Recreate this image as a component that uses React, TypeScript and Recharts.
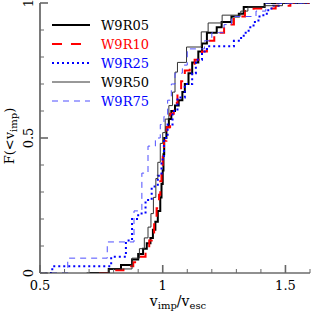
import React from "react";
import { LineChart, Line, XAxis, YAxis, Legend } from "recharts";

// cumulative fractions (step after each x)
const r05X = [0.7, 0.78, 0.83, 0.875, 0.9, 0.92, 0.935, 0.95, 0.96, 0.97, 0.98, 0.99, 0.995, 1.0, 1.003, 1.006, 1.015, 1.025, 1.035, 1.05, 1.065, 1.08, 1.09, 1.105, 1.12, 1.145, 1.16, 1.18, 1.22, 1.24, 1.28, 1.31, 1.33, 1.415, 1.6];
const r05F = [0, 0.015, 0.03, 0.05, 0.07, 0.09, 0.11, 0.13, 0.16, 0.19, 0.23, 0.28, 0.33, 0.38, 0.44, 0.5, 0.54, 0.57, 0.6, 0.62, 0.64, 0.67, 0.7, 0.74, 0.78, 0.82, 0.85, 0.89, 0.91, 0.93, 0.95, 0.96, 0.985, 1.0, 1.0];

const r10X = [0.74, 0.8, 0.84, 0.88, 0.91, 0.93, 0.945, 0.955, 0.965, 0.975, 0.985, 0.99, 0.995, 1.0, 1.005, 1.015, 1.03, 1.045, 1.06, 1.075, 1.09, 1.11, 1.13, 1.16, 1.18, 1.21, 1.25, 1.29, 1.335, 1.37, 1.46, 1.52, 1.6];
const r10F = [0, 0.01, 0.025, 0.04, 0.06, 0.09, 0.12, 0.15, 0.19, 0.24, 0.29, 0.34, 0.39, 0.44, 0.49, 0.54, 0.59, 0.63, 0.67, 0.71, 0.75, 0.77, 0.79, 0.82, 0.86, 0.89, 0.92, 0.95, 0.97, 0.98, 0.99, 1.0, 1.0];

const r25X = [0.5, 0.55, 0.79, 0.85, 0.875, 0.9, 0.93, 0.955, 0.98, 0.995, 1.005, 1.02, 1.04, 1.06, 1.09, 1.12, 1.135, 1.16, 1.18, 1.29, 1.31, 1.33, 1.35, 1.37, 1.39, 1.41, 1.43, 1.45, 1.48, 1.6];
const r25F = [0, 0.025, 0.06, 0.12, 0.2, 0.22, 0.27, 0.32, 0.36, 0.42, 0.5, 0.55, 0.6, 0.65, 0.7, 0.74, 0.79, 0.82, 0.84, 0.86, 0.87, 0.89, 0.91, 0.93, 0.95, 0.96, 0.98, 0.99, 1.0, 1.0];

const r50X = [0.69, 0.78, 0.875, 0.905, 0.925, 0.94, 0.952, 0.962, 0.972, 0.98, 0.99, 1.0, 1.01, 1.025, 1.04, 1.05, 1.06, 1.097, 1.157, 1.185, 1.242, 1.318, 1.347, 1.415, 1.488, 1.6];
const r50F = [0, 0.015, 0.055, 0.09, 0.13, 0.17, 0.22, 0.28, 0.35, 0.41, 0.48, 0.52, 0.57, 0.62, 0.67, 0.744, 0.78, 0.837, 0.893, 0.926, 0.955, 0.97, 0.985, 0.99, 1.0, 1.0];

const r75X = [0.5, 0.613, 0.774, 0.883, 0.915, 0.94, 0.97, 0.99, 1.005, 1.02, 1.035, 1.05, 1.08, 1.1, 1.17, 1.2, 1.25, 1.28, 1.38, 1.42, 1.6];
const r75F = [0, 0.055, 0.115, 0.23, 0.37, 0.47, 0.5, 0.55, 0.58, 0.64, 0.7, 0.74, 0.77, 0.83, 0.86, 0.89, 0.92, 0.95, 0.97, 1.0, 1.0];

const X_TICKS = [0.5, 0.6, 0.7, 0.8, 0.9, 1.0, 1.1, 1.2, 1.3, 1.4, 1.5, 1.6];
const Y_TICKS = [0, 0.1, 0.2, 0.3, 0.4, 0.5, 0.6, 0.7, 0.8, 0.9, 1.0];

const FONT = "'DejaVu Serif', serif";
const TICK_COLOR = "#666";

const toRows = (xs: number[], fs: number[]) => xs.map((x, i) => ({ x, F: fs[i] }));

const series = [
  { name: "W9R05", data: toRows(r05X, r05F), stroke: "#000", width: 2, dash: undefined, text: "#000" },
  { name: "W9R10", data: toRows(r10X, r10F), stroke: "#ff0000", width: 2, dash: "10 9", text: "#ff0000" },
  { name: "W9R25", data: toRows(r25X, r25F), stroke: "#0000ff", width: 2, dash: "2 3", text: "#0000ff" },
  { name: "W9R50", data: toRows(r50X, r50F), stroke: "#333", width: 1, dash: undefined, text: "#000" },
  { name: "W9R75", data: toRows(r75X, r75F), stroke: "#4f4fff", width: 1, dash: "6 5", text: "#0000ff" },
];

const isMajor = (v: number) => Math.abs(v * 2 - Math.round(v * 2)) < 1e-6;
const fmt = (v: number) => (Math.abs(v - Math.round(v)) < 1e-6 ? String(Math.round(v)) : v.toFixed(1));

function BottomTick({ x, y, payload }: any) {
  const major = isMajor(payload.value);
  return (
    <g>
      <line x1={x} y1={y} x2={x} y2={y - (major ? 8 : 4)} stroke={TICK_COLOR} strokeWidth={major ? 1.6 : 1} />
      {major && payload.value < 1.55 && (
        <text x={x} y={y + 17} textAnchor="middle" fontFamily={FONT} fontSize={13} fill="#000">
          {fmt(payload.value)}
        </text>
      )}
    </g>
  );
}

function TopTick({ x, y, payload }: any) {
  const major = isMajor(payload.value);
  return <line x1={x} y1={y} x2={x} y2={y + (major ? 8 : 4)} stroke={TICK_COLOR} strokeWidth={major ? 1.6 : 1} />;
}

function LeftTick({ x, y, payload }: any) {
  const major = isMajor(payload.value);
  return (
    <g>
      <line x1={x} y1={y} x2={x + (major ? 8 : 4)} y2={y} stroke={TICK_COLOR} strokeWidth={major ? 1.6 : 1} />
      {major && (
        <text x={x - 7} y={y} transform={`rotate(-90, ${x - 7}, ${y})`} textAnchor="middle" fontFamily={FONT} fontSize={13} fill="#000">
          {fmt(payload.value)}
        </text>
      )}
    </g>
  );
}

function RightTick({ x, y, payload }: any) {
  const major = isMajor(payload.value);
  return <line x1={x} y1={y} x2={x - (major ? 8 : 4)} y2={y} stroke={TICK_COLOR} strokeWidth={major ? 1.6 : 1} />;
}

function XTitle({ viewBox }: any) {
  const cx = viewBox.x + viewBox.width / 2 + 3;
  const by = viewBox.y + 33;
  return (
    <text x={cx} y={by} textAnchor="middle" fontFamily={FONT} fontSize={14} fill="#000">
      v<tspan fontSize={10} dy={3}>imp</tspan>
      <tspan dy={-3}>/v</tspan>
      <tspan fontSize={10} dy={3}>esc</tspan>
    </text>
  );
}

function YTitle({ viewBox }: any) {
  const bx = 14;
  const cy = viewBox.y + viewBox.height / 2 - 2;
  return (
    <text x={bx} y={cy} transform={`rotate(-90, ${bx}, ${cy})`} textAnchor="middle" fontFamily={FONT} fontSize={13} fill="#000">
      F(&lt;v<tspan fontSize={10} dy={3}>imp</tspan>
      <tspan dy={-3}>)</tspan>
    </text>
  );
}

function LegendBox() {
  return (
    <svg width={110} height={100}>
      {series.map((s, i) => {
        const cy = 11 + i * 19;
        return (
          <g key={s.name}>
            <line x1={4} y1={cy} x2={42} y2={cy} stroke={s.stroke} strokeWidth={s.width} strokeDasharray={s.dash} />
            <text x={53} y={cy + 5} fontFamily={FONT} fontSize={13} fill={s.text}>
              {s.name}
            </text>
          </g>
        );
      })}
    </svg>
  );
}

export default function App() {
  return (
    <div style={{ position: "absolute", left: 0, top: 0, background: "#fff" }}>
      <LineChart width={311} height={314} margin={{ top: 3, right: 1, bottom: 0, left: 0 }}>
        <XAxis
          dataKey="x"
          type="number"
          domain={[0.5, 1.6]}
          ticks={X_TICKS}
          interval={0}
          allowDataOverflow
          height={41}
          tickSize={0}
          tickMargin={0}
          tickLine={false}
          tick={<BottomTick />}
          axisLine={{ stroke: "#222", strokeWidth: 1.2 }}
          label={<XTitle />}
        />
        <XAxis
          xAxisId="top"
          orientation="top"
          dataKey="x"
          type="number"
          domain={[0.5, 1.6]}
          ticks={X_TICKS}
          interval={0}
          allowDataOverflow
          height={0}
          tickSize={0}
          tickMargin={0}
          tickLine={false}
          tick={<TopTick />}
          axisLine={{ stroke: "#222", strokeWidth: 1.2 }}
        />
        <YAxis
          type="number"
          domain={[0, 1]}
          ticks={Y_TICKS}
          interval={0}
          allowDataOverflow
          width={40}
          tickSize={0}
          tickMargin={0}
          tickLine={false}
          tick={<LeftTick />}
          axisLine={{ stroke: "#222", strokeWidth: 1.2 }}
          label={<YTitle />}
        />
        <YAxis
          yAxisId="right"
          orientation="right"
          type="number"
          domain={[0, 1]}
          ticks={Y_TICKS}
          interval={0}
          allowDataOverflow
          width={0}
          tickSize={0}
          tickMargin={0}
          tickLine={false}
          tick={<RightTick />}
          axisLine={{ stroke: "#222", strokeWidth: 1.2 }}
        />
        {series.map((s) => (
          <Line
            key={s.name}
            data={s.data}
            dataKey="F"
            type="stepAfter"
            stroke={s.stroke}
            strokeWidth={s.width}
            strokeDasharray={s.dash}
            dot={false}
            activeDot={false}
            isAnimationActive={false}
          />
        ))}
        <Legend
          layout="vertical"
          align="center"
          verticalAlign="middle"
          content={<LegendBox />}
          wrapperStyle={{ left: 48, top: 14, width: 110, height: 100 }}
        />
      </LineChart>
    </div>
  );
}
